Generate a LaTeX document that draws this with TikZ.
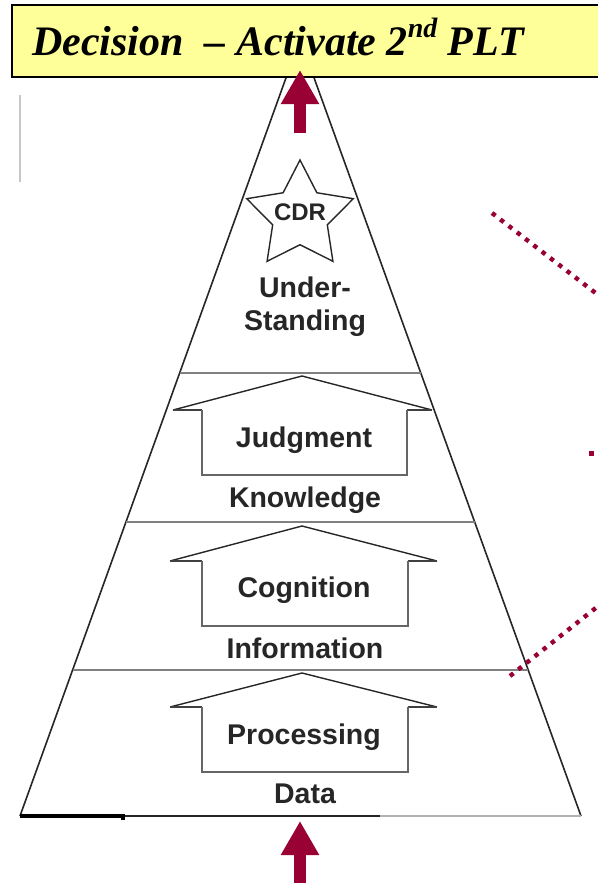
\documentclass[tikz,border=0pt]{standalone}
\usepackage{fontspec}
\setmainfont{Liberation Serif}
\setsansfont{Liberation Sans}
\usetikzlibrary{arrows.meta,shapes.geometric}
\definecolor{plum}{RGB}{153,0,51}
\definecolor{paleyellow}{RGB}{255,255,153}

\tikzset{
  side/.style={draw=black!85, line width=1.6},
  tier/.style={draw=black!50, line width=2.6},
  roof/.style={draw=black!85, line width=1.4},
  eave/.style={draw=black!75, line width=2.6},
  wall/.style={draw=black!60, line width=1.9},
  lbl/.style={font=\sffamily\bfseries\fontsize{28.5}{32}\selectfont, text=black!85, inner sep=0pt, anchor=base},
  redarrow/.style={draw=plum, line width=12pt, -{Triangle[width=36pt,length=34pt]}},
  reddots/.style={draw=plum, line width=4.4pt, dash pattern=on 4.4pt off 6.1pt},
}

\begin{document}
\begin{tikzpicture}[x=1pt,y=1pt,yscale=-1,xscale=1]
\useasboundingbox (0,0) rectangle (597,883);

% corners of the pyramid
\coordinate (apex) at (300,39);
\coordinate (bl) at (20,816);
\coordinate (br) at (581,816);

%Straight Lines (sides and base)
\draw [side] (apex) -- (bl);
\draw [side] (apex) -- (br);
\draw [draw=black!85, line width=1.3] (bl) -- (380,816);
\draw [draw=gray!60, line width=1.3] (380,816) -- (br);
\draw [draw=black, line width=3.2] (bl) -- (123,816) -- (123,820);

%Straight Lines (tiers)
\draw [tier] (179.6,373) -- (420.8,373);
\draw [tier] (125.9,522) -- (474.7,522);
\draw [tier] (72.6,670) -- (528.2,670);

% stray mark on the left
\draw [draw=gray!45, line width=1.6] (20,95) -- (20,182);

% Star
\node [star, star points=5, star point ratio=1.95, minimum size=112pt, inner sep=0pt, draw=black!85, line width=1.4] (star) at (300,216) {};

% House Judgment
\draw [roof] (173,410) -- (302,376) -- (432,410);
\draw [eave] (173,410) -- (202,410);
\draw [eave] (407,410) -- (432,410);
\draw [wall] (202,410) -- (202,475) -- (407,475) -- (407,410);
% House Cognition
\draw [roof] (170,561) -- (302,526) -- (437,561);
\draw [eave] (170,561) -- (202,561);
\draw [eave] (408,561) -- (437,561);
\draw [wall] (202,561) -- (202,626) -- (408,626) -- (408,561);
% House Processing
\draw [roof] (170,707) -- (302,673) -- (437,707);
\draw [eave] (170,707) -- (202,707);
\draw [eave] (408,707) -- (437,707);
\draw [wall] (202,707) -- (202,772) -- (408,772) -- (408,707);

% Text Node
\node [lbl, font=\sffamily\bfseries\fontsize{24}{26}\selectfont] (cdr) at (300,220) {CDR};
% Text Node
\node [lbl] (under) at (305,297) {Under-};
% Text Node
\node [lbl] (standing) at (305,330) {Standing};
% Text Node
\node [lbl] (judgment) at (304,447) {Judgment};
% Text Node
\node [lbl] (knowledge) at (305,507) {Knowledge};
% Text Node
\node [lbl] (cognition) at (304,597) {Cognition};
% Text Node
\node [lbl] (information) at (305,658) {Information};
% Text Node
\node [lbl] (processing) at (304,744) {Processing};
% Text Node
\node [lbl] (data) at (305,803) {Data};

% Dotted red lines
\coordinate (dotsA) at (492,213);
\coordinate (dotsAend) at (602,298);
\coordinate (dotsB) at (510,676);
\coordinate (dotsBend) at (602,603);
\draw [reddots] (dotsA) -- (dotsAend);
\draw [reddots] (dotsB) -- (dotsBend);
\fill [plum] (588.5,450.5) rectangle (593.5,455.5);

% Title box
\draw [fill=paleyellow, line width=2] (12,5) rectangle (610,77);
% Text Node
\node [anchor=base west, inner sep=0pt, font=\fontsize{42}{46}\selectfont\bfseries\itshape] (title) at (32,56) {Decision\hspace{0.5em}-- Activate 2\raisebox{0.45em}{\fontsize{28}{30}\selectfont nd} PLT};

% Red arrows
\coordinate (topfoot) at (300,133);
\coordinate (toptip) at (300,70);
\coordinate (infoot) at (300,890);
\coordinate (intip) at (300,821);
\draw [redarrow] (topfoot) -- (toptip);
\draw [redarrow] (infoot) -- (intip);

\end{tikzpicture}
\end{document}
